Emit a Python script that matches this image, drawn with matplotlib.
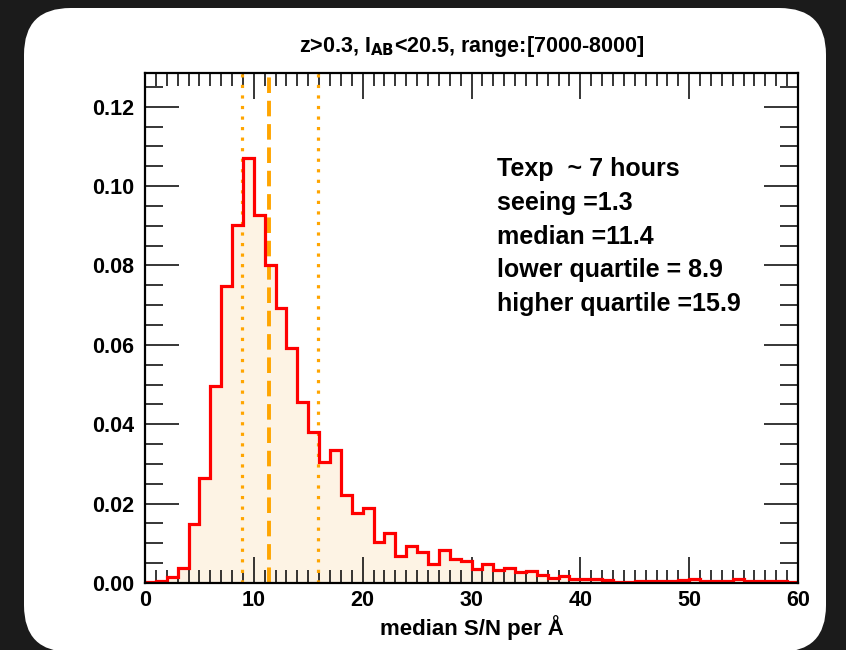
import numpy as np
import matplotlib
matplotlib.use('Agg')
import matplotlib.pyplot as plt
from matplotlib.patches import FancyBboxPatch

plt.rcParams['font.family'] = ['Liberation Sans', 'DejaVu Sans']

# histogram: bins of width 1 from 0 to 60 (fraction per bin)
bin_edges = list(range(0, 61))
frac = [0.0003, 0.0006, 0.0014, 0.0039, 0.0149, 0.0264, 0.0497, 0.0749, 0.0902, 0.1071,
        0.0928, 0.0800, 0.0694, 0.0592, 0.0455, 0.0380, 0.0304, 0.0336, 0.0221, 0.0177,
        0.0189, 0.0103, 0.0125, 0.0069, 0.0092, 0.0079, 0.0047, 0.0082, 0.0060, 0.0056,
        0.0035, 0.0048, 0.0033, 0.0039, 0.0028, 0.0031, 0.0020, 0.0012, 0.0018, 0.0011,
        0.0011, 0.0011, 0.0008, 0.0003, 0.0003, 0.0004, 0.0004, 0.0006, 0.0004, 0.0008,
        0.0011, 0.0006, 0.0004, 0.0004, 0.0011, 0.0005, 0.0006, 0.0006, 0.0006, 0.0003]
median = 11.4
lower_q = 8.9
upper_q = 15.9
info = ['Texp  ~ 7 hours', 'seeing =1.3', 'median =11.4',
        'lower quartile = 8.9', 'higher quartile =15.9']

fig = plt.figure(figsize=(8.46, 6.5), dpi=100)
fig.patch.set_facecolor('#1b1b1b')

# white rounded panel behind the plot
panel = FancyBboxPatch((24 / 846, -2 / 650), 802 / 846, 644 / 650,
                       boxstyle='round,pad=0,rounding_size=0.055',
                       transform=fig.transFigure, facecolor='white',
                       edgecolor='none', zorder=-5, mutation_aspect=846 / 650)
fig.patches.append(panel)

ax = fig.add_axes([145 / 846, 1 - 583 / 650, 653 / 846, 510 / 650])
ax.set_facecolor('white')

ax.stairs(frac, bin_edges, fill=True, color='#fdf3e4', zorder=1)
for q in (lower_q, upper_q):
    ax.axvline(q, color='orange', lw=2.3, dashes=(1, 2.3), zorder=2)
ax.axvline(median, color='orange', lw=2.8, dashes=(4.0, 2.0), zorder=2)
ax.stairs(frac, bin_edges, color='red', lw=2.3, zorder=3)

ax.set_xlim(0, 60)
ax.set_ylim(0, 0.1285)
ax.set_xticks(range(0, 61, 10))
ax.set_xticks(range(0, 61), minor=True)
ax.set_yticks(np.arange(0, 0.121, 0.02))
ax.set_yticks(np.arange(0, 0.126, 0.005), minor=True)
ax.set_yticklabels(['%.2f' % v for v in np.arange(0, 0.121, 0.02)])

ax.tick_params(which='both', direction='in', top=True, right=True, width=1.1,
               labelsize=15.5)
ax.tick_params(axis='x', which='major', length=19, pad=5)
ax.tick_params(axis='x', which='minor', length=9.5)
ax.tick_params(axis='y', which='major', length=24.5, pad=8)
ax.tick_params(axis='y', which='minor', length=13)
for lab in ax.get_xticklabels() + ax.get_yticklabels():
    lab.set_fontweight('bold')
for s in ax.spines.values():
    s.set_linewidth(1.6)
    s.set_zorder(4)

ax.set_xlabel('median S/N per Å', fontsize=16, fontweight='bold', labelpad=3)
ax.set_title('z>0.3, I$_{\\mathbf{AB}}$<20.5, range:[7000-8000]',
             fontsize=15.5, fontweight='bold', pad=15)

y0 = 0.1043
for i, line in enumerate(info):
    ax.text(32.35, y0 - i * 0.0085, line, fontsize=18, fontweight='bold',
            va='center', ha='left')

fig.savefig('out.png', dpi=100, facecolor=fig.get_facecolor())
